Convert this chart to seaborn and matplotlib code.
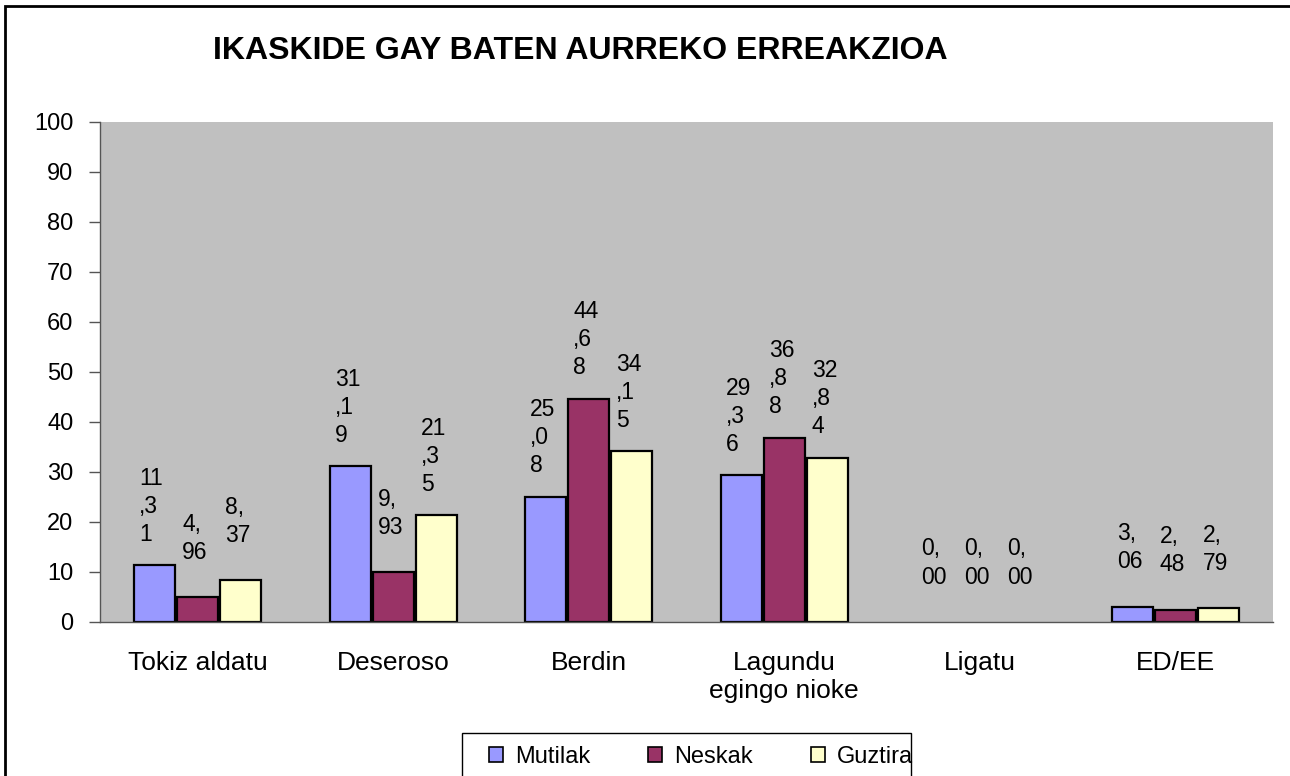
import matplotlib

matplotlib.use("Agg")
import matplotlib.pyplot as plt
import matplotlib.patches as mpatches
import numpy as np
import pandas as pd
import seaborn as sns

categories = ["Tokiz aldatu", "Deseroso", "Berdin", "Lagundu\negingo nioke", "Ligatu", "ED/EE"]
series_names = ["Mutilak", "Neskak", "Guztira"]
mutilak = [11.31, 31.19, 25.08, 29.36, 0.00, 3.06]
neskak = [4.96, 9.93, 44.68, 36.88, 0.00, 2.48]
guztira = [8.37, 21.35, 34.15, 32.84, 0.00, 2.79]
colors = ["#9999FF", "#993366", "#FFFFCC"]
y_ticks = list(range(0, 101, 10))


def excel_label(v: float) -> str:
    """Format like the Excel label: comma decimal, wrapped every 2 chars."""
    s = f"{v:.2f}".replace(".", ",")
    return "\n".join(s[i:i + 2] for i in range(0, len(s), 2))


df = pd.DataFrame({
    "cat": categories * 3,
    "val": mutilak + neskak + guztira,
    "series": np.repeat(series_names, len(categories)),
})

sns.set_theme(style="white")
plt.rcParams["font.family"] = ["Liberation Sans", "DejaVu Sans"]
plt.rcParams["text.color"] = "black"
plt.rcParams["xtick.color"] = "black"
plt.rcParams["ytick.color"] = "black"

W, H = 1290, 776
fig = plt.figure(figsize=(W / 100, H / 100), dpi=100)
ax = fig.add_axes([100 / W, 1 - 622 / H, 1173 / W, 500 / H])
ax.set_facecolor("#C0C0C0")

sns.barplot(data=df, x="cat", y="val", hue="series", palette=colors,
            saturation=1, width=0.66, gap=0.05, edgecolor="black",
            linewidth=1.6, ax=ax, legend=False)

for cont in ax.containers:
    for bar, v in zip(cont, cont.datavalues):
        if v == 0:
            bar.set_linewidth(0)
        ax.text(bar.get_x() + 0.025, v + 11.8, excel_label(v), ha="left",
                va="center", fontsize=16.5, linespacing=1.28, color="black")

ax.set_ylim(0, 100)
ax.set_xlim(-0.5, len(categories) - 0.5)
ax.set_yticks(y_ticks)
ax.set_yticklabels([str(t) for t in y_ticks], fontsize=17)
ax.set_xticks(range(len(categories)))
ax.set_xticklabels(categories, fontsize=19)
ax.set_xticks(np.arange(-0.5, len(categories)), minor=True)
ax.tick_params(axis="x", which="major", length=0, pad=21, labelcolor="black")
ax.tick_params(axis="x", which="minor", length=8, width=1, color="#555555")
ax.tick_params(axis="y", length=8, width=1, color="#555555", pad=11, left=True,
               labelcolor="black")
ax.set_xlabel("")
ax.set_ylabel("")

for side in ["top", "right"]:
    ax.spines[side].set_visible(False)
for side in ["left", "bottom"]:
    ax.spines[side].set_color("#555555")
    ax.spines[side].set_linewidth(1)

fig.text(580 / W, 1 - 51 / H, "IKASKIDE GAY BATEN AURREKO ERREAKZIOA",
         ha="center", va="center", fontsize=23, fontweight="bold", color="black")

# legend without its own frame; frame drawn separately (asymmetric padding)
handles = [mpatches.Patch(facecolor=c, edgecolor="black", linewidth=1.2) for c in colors]
leg = fig.legend(handles, series_names, loc="center left",
                 bbox_to_anchor=(489 / W, 1 - 757 / H), ncol=3, fontsize=17,
                 frameon=False, handlelength=0.6, handleheight=0.6,
                 handletextpad=0.5, columnspacing=2.45, borderpad=0,
                 borderaxespad=0)
for t in leg.get_texts():
    t.set_color("black")
fig.patches.append(mpatches.Rectangle((462 / W, -0.1), 449 / W, 0.1 + 1 - 733 / H,
                                      transform=fig.transFigure, fill=False,
                                      edgecolor="black", linewidth=1))

# outer chart border
fig.patches.append(mpatches.Rectangle((5 / W, -0.1), 1.2, 1.1 - 6 / H,
                                      transform=fig.transFigure, fill=False,
                                      edgecolor="black", linewidth=2))

fig.savefig("out.png", dpi=100)
